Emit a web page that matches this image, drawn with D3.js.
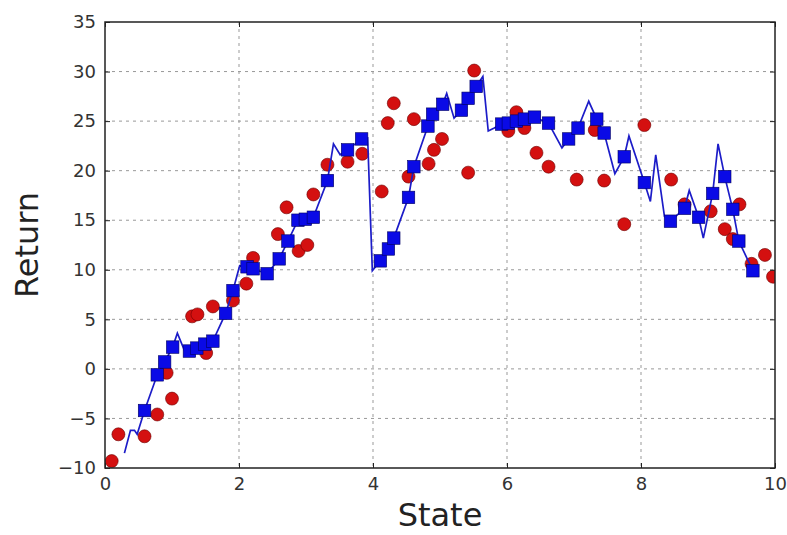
<!DOCTYPE html>
<html>
<head>
<meta charset="utf-8">
<script src="https://cdn.jsdelivr.net/npm/d3@7"></script>
<style>
  body { margin: 0; background: #fff; }
  svg { display: block; font-family: "DejaVu Sans", sans-serif; }
</style>
</head>
<body>
<svg id="chart"></svg>
<script>
// line series (state, return)
var lineX = [0.29,0.38,0.44,0.48,0.59,0.78,0.89,1.01,1.08,1.19,1.26,1.37,1.49,1.61,1.80,1.91,2.01,2.12,2.21,2.42,2.60,2.73,2.88,2.99,3.11,3.32,3.41,3.51,3.62,3.83,3.92,3.99,4.11,4.23,4.31,4.53,4.61,4.82,4.89,5.04,5.10,5.21,5.32,5.42,5.54,5.64,5.72,5.81,5.92,6.02,6.14,6.26,6.41,6.62,6.82,6.92,7.06,7.22,7.34,7.45,7.61,7.75,7.82,8.05,8.14,8.22,8.35,8.44,8.65,8.72,8.86,8.93,9.07,9.15,9.25,9.37,9.46,9.67];
var lineY = [-8.5,-6.2,-6.2,-6.6,-4.2,-0.6,0.7,2.2,3.6,1.8,1.8,2.1,2.5,2.8,5.6,7.9,10.4,10.3,10.1,9.6,11.1,12.9,15.0,15.1,15.3,19.0,22.7,21.6,22.1,23.2,23.3,9.9,10.9,12.1,13.2,17.3,20.4,24.5,25.7,26.7,27.8,25.3,26.1,27.3,28.5,29.5,24.0,24.3,24.7,24.8,25.0,25.2,25.4,24.8,22.3,23.2,24.3,27.0,25.2,23.8,19.7,21.4,23.5,18.8,16.9,21.6,15.4,14.9,16.2,18.0,15.3,13.2,17.7,22.7,19.4,16.1,12.9,9.9];

// blue squares
var squareX = [0.59,0.78,0.89,1.01,1.26,1.37,1.49,1.61,1.80,1.91,2.12,2.21,2.42,2.60,2.73,2.88,2.99,3.11,3.32,3.62,3.83,4.11,4.23,4.31,4.53,4.61,4.82,4.89,5.04,5.32,5.42,5.54,5.92,6.02,6.14,6.26,6.41,6.62,6.92,7.06,7.34,7.45,7.75,8.05,8.44,8.65,8.86,9.07,9.25,9.37,9.46,9.67];
var squareY = [-4.2,-0.6,0.7,2.2,1.8,2.1,2.5,2.8,5.6,7.9,10.3,10.1,9.6,11.1,12.9,15.0,15.1,15.3,19.0,22.1,23.2,10.9,12.1,13.2,17.3,20.4,24.5,25.7,26.7,26.1,27.3,28.5,24.7,24.8,25.0,25.2,25.4,24.8,23.2,24.3,25.2,23.8,21.4,18.8,14.9,16.2,15.3,17.7,19.4,16.1,12.9,9.9];

// red circles
var circleX = [0.10,0.20,0.59,0.78,0.92,1.00,1.30,1.38,1.51,1.61,1.91,2.11,2.21,2.58,2.71,2.89,3.02,3.11,3.32,3.62,3.84,4.13,4.22,4.31,4.53,4.61,4.83,4.91,5.03,5.42,5.51,6.02,6.14,6.26,6.44,6.62,7.04,7.31,7.45,7.75,8.05,8.45,8.65,9.04,9.25,9.37,9.47,9.65,9.85,9.97];
var circleY = [-9.3,-6.6,-6.8,-4.6,-0.4,-3.0,5.3,5.5,1.6,6.3,6.9,8.6,11.2,13.6,16.3,11.9,12.5,17.6,20.6,20.9,21.7,17.9,24.8,26.8,19.4,25.2,20.7,22.1,23.2,19.8,30.1,24.0,25.9,24.3,21.8,20.4,19.1,24.1,19.0,14.6,24.6,19.1,16.6,15.9,14.1,13.1,16.6,10.6,11.5,9.3];

var xTicks = [0, 2, 4, 6, 8, 10];
var yTicks = [-10, -5, 0, 5, 10, 15, 20, 25, 30, 35];

const W = 787, H = 535;
const margin = {left: 105, top: 22, right: 12, bottom: 67};
const pw = W - margin.left - margin.right;
const ph = H - margin.top - margin.bottom;

const svg = d3.select("#chart").attr("width", W).attr("height", H);
const g = svg.append("g").attr("transform", `translate(${margin.left},${margin.top})`);

const x = d3.scaleLinear().domain([0, 10]).range([0, pw]);
const y = d3.scaleLinear().domain([-10, 35]).range([ph, 0]);

// clip so markers at the edges get cut by the frame
svg.append("defs").append("clipPath").attr("id", "clip")
  .append("rect").attr("width", pw).attr("height", ph);

// grid
g.append("g")
  .selectAll("line.gx")
  .data(xTicks.slice(1, -1))
  .enter().append("line")
    .attr("x1", d => x(d)).attr("x2", d => x(d))
    .attr("y1", 0).attr("y2", ph)
    .attr("stroke", "#999").attr("stroke-width", 1).attr("stroke-dasharray", "3,4");
g.append("g")
  .selectAll("line.gy")
  .data(yTicks.slice(1, -1))
  .enter().append("line")
    .attr("x1", 0).attr("x2", pw)
    .attr("y1", d => y(d)).attr("y2", d => y(d))
    .attr("stroke", "#999").attr("stroke-width", 1).attr("stroke-dasharray", "3,4");

const plot = g.append("g").attr("clip-path", "url(#clip)");

// red circles
plot.append("g")
  .selectAll("circle")
  .data(circleX.map((v, i) => [v, circleY[i]]))
  .enter().append("circle")
    .attr("cx", d => x(d[0]))
    .attr("cy", d => y(d[1]))
    .attr("r", 6.5)
    .attr("fill", "#d41010")
    .attr("stroke", "#6a0000")
    .attr("stroke-width", 0.6);

// blue line
const lineGen = d3.line().x(d => x(d[0])).y(d => y(d[1]));
plot.append("path")
  .datum(lineX.map((v, i) => [v, lineY[i]]))
  .attr("d", lineGen)
  .attr("fill", "none")
  .attr("stroke", "#1c1cc8")
  .attr("stroke-width", 1.7);

// blue squares
const sq = 12.5;
plot.append("g")
  .selectAll("rect")
  .data(squareX.map((v, i) => [v, squareY[i]]))
  .enter().append("rect")
    .attr("x", d => x(d[0]) - sq / 2)
    .attr("y", d => y(d[1]) - sq / 2)
    .attr("width", sq).attr("height", sq)
    .attr("fill", "#0a0ae6")
    .attr("stroke", "#000060")
    .attr("stroke-width", 0.6);

// axes: ticks inward on all sides
const axB = d3.axisBottom(x).tickValues(xTicks).tickSizeInner(-5).tickSizeOuter(0).tickPadding(9);
const axT = d3.axisTop(x).tickValues(xTicks).tickSizeInner(-5).tickSizeOuter(0).tickFormat("");
const axL = d3.axisLeft(y).tickValues(yTicks).tickSizeInner(-5).tickSizeOuter(0).tickPadding(9);
const axR = d3.axisRight(y).tickValues(yTicks).tickSizeInner(-5).tickSizeOuter(0).tickFormat("");

function style(sel) {
  sel.select(".domain").remove();
  sel.selectAll(".tick line").attr("stroke", "#222").attr("stroke-width", 1);
  sel.selectAll(".tick text").attr("fill", "#333").attr("font-size", 18)
    .attr("font-family", "DejaVu Sans, sans-serif");
}
g.append("g").attr("transform", `translate(0,${ph})`).call(axB).call(style);
g.append("g").call(axT).call(style);
g.append("g").call(axL).call(style);
g.append("g").attr("transform", `translate(${pw},0)`).call(axR).call(style);

// frame
g.append("rect")
  .attr("width", pw).attr("height", ph)
  .attr("fill", "none").attr("stroke", "#222").attr("stroke-width", 1.5);

// labels
svg.append("text")
  .attr("x", margin.left + pw / 2).attr("y", 526)
  .attr("text-anchor", "middle")
  .attr("font-size", 32).attr("fill", "#222")
  .text("State");
svg.append("text")
  .attr("transform", `translate(38,${margin.top + ph / 2}) rotate(-90)`)
  .attr("text-anchor", "middle")
  .attr("font-size", 32).attr("fill", "#222")
  .text("Return");
</script>
</body>
</html>
